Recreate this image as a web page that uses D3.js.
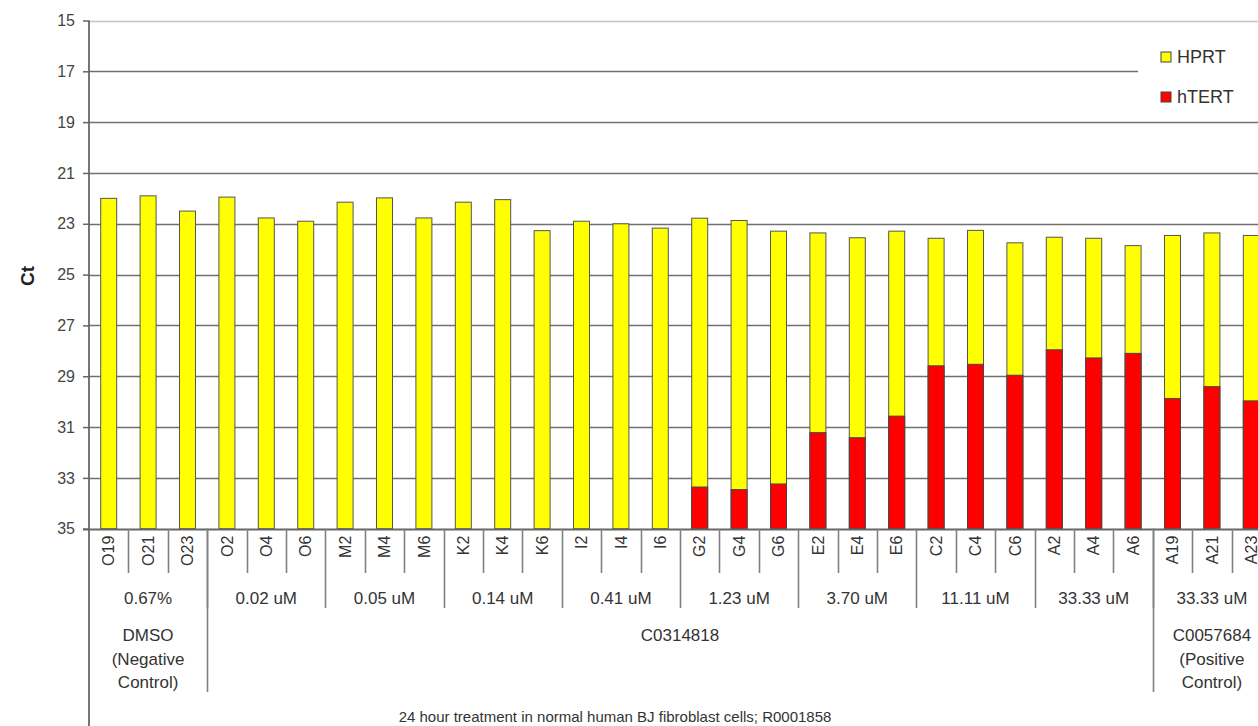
<!DOCTYPE html>
<html><head><meta charset="utf-8">
<script src="https://cdn.jsdelivr.net/npm/d3@7"></script>
<style>
html,body{margin:0;padding:0;background:#fff;overflow:hidden;}
text{font-family:"Liberation Sans",Arial,sans-serif;fill:#333;}
</style></head><body>
<svg id="chart" width="1258" height="726"></svg>
<script>
const categories = ["O19","O21","O23","O2","O4","O6","M2","M4","M6","K2","K4","K6","I2","I4","I6","G2","G4","G6","E2","E4","E6","C2","C4","C6","A2","A4","A6","A19","A21","A23"];
const doseGroups = ["0.67%","0.02 uM","0.05 uM","0.14 uM","0.41 uM","1.23 uM","3.70 uM","11.11 uM","33.33 uM","33.33 uM"];
const compoundGroups = [["DMSO","(Negative","Control)"],["C0314818"],["C0057684","(Positive","Control)"]];
const compoundSpans = [1, 8, 1]; // number of dose groups in each compound group
const hprt = [22.0,21.9,22.5,21.95,22.77,22.9,22.15,21.98,22.77,22.15,22.05,23.27,22.9,23.0,23.17,22.78,22.87,23.29,23.36,23.55,23.29,23.57,23.26,23.75,23.53,23.57,23.86,23.46,23.36,23.46];
const htert = [null,null,null,null,null,null,null,null,null,null,null,null,null,null,null,33.36,33.46,33.24,31.22,31.42,30.57,28.59,28.53,28.96,27.96,28.28,28.1,29.88,29.41,29.97];
const yTicks = [15,17,19,21,23,25,27,29,31,33,35];
const seriesNames = ["HPRT","hTERT"];
const seriesColors = ["#ffff00","#ff0000"];

const svg = d3.select("#chart");
const axisX = 89, plotTop = 20.5, plotBottom = 528.7;
const step = 39.4;
const x = d3.scaleBand().domain(categories).range([axisX, axisX + step*categories.length]).padding(0);
const y = d3.scaleLinear().domain([15,35]).range([plotTop, plotBottom]);
const barW = 16;

// gridlines
svg.append("g").selectAll("line").data(yTicks.slice(0,-1)).join("line")
  .attr("x1", axisX).attr("x2", 1258)
  .attr("y1", d=>Math.round(y(d))+0.5).attr("y2", d=>Math.round(y(d))+0.5)
  .attr("stroke", d=> d===15 ? "#c4c4c4" : "#707070").attr("stroke-width", 1.6);

// y axis
const yAxis = d3.axisLeft(y).tickValues(yTicks).tickSize(6).tickPadding(8);
const gy = svg.append("g").attr("transform", `translate(${axisX},0)`).call(yAxis);
gy.select(".domain").remove();
gy.selectAll(".tick line").attr("stroke","#666").attr("stroke-width",1.5);
gy.selectAll(".tick text").style("font-size","16px").style("fill","#444").style("font-family","\"Liberation Sans\",Arial,sans-serif");
svg.append("line").attr("x1",axisX).attr("x2",axisX).attr("y1",plotTop).attr("y2",726)
  .attr("stroke","#666").attr("stroke-width",1.8);

// bars
const bars = svg.append("g");
bars.selectAll("rect.hprt").data(categories).join("rect").attr("class","hprt")
  .attr("x", (d)=> x(d) + (x.bandwidth()-barW)/2).attr("width", barW)
  .attr("y", (d,i)=> y(hprt[i])).attr("height", (d,i)=> y(35) - y(hprt[i]))
  .attr("fill", seriesColors[0]).attr("stroke","#555").attr("stroke-width",1);
bars.selectAll("rect.htert").data(categories.filter((d,i)=>htert[i]!=null)).join("rect").attr("class","htert")
  .attr("x", (d)=> x(d) + (x.bandwidth()-barW)/2).attr("width", barW)
  .attr("y", d=> y(htert[categories.indexOf(d)])).attr("height", d=> y(35) - y(htert[categories.indexOf(d)]))
  .attr("fill", seriesColors[1]).attr("stroke","#444").attr("stroke-width",1);

// bottom axis line
svg.append("line").attr("x1",axisX-6).attr("x2",1258).attr("y1",Math.round(y(35))+0.5).attr("y2",Math.round(y(35))+0.5)
  .attr("stroke","#666").attr("stroke-width",1.8);

// category labels (rotated)
const xAxis = d3.axisBottom(x).tickSize(0).tickPadding(0);
const gx = svg.append("g").attr("transform",`translate(0,${y(35)})`).call(xAxis);
gx.select(".domain").remove();
gx.selectAll(".tick text")
  .attr("transform","rotate(-90)").attr("x",-7).attr("y",0).attr("dy","0.35em")
  .style("text-anchor","end").style("font-size","16px").style("font-family","\"Liberation Sans\",Arial,sans-serif");

// separators
const sepG = svg.append("g").attr("stroke","#808080").attr("stroke-width",1.6);
for (let i=1;i<categories.length;i++){
  const xx = Math.round(axisX + step*i)+0.5;
  let bottom = 573;
  if (i%3===0) bottom = 608;
  sepG.append("line").attr("x1",xx).attr("x2",xx).attr("y1",y(35)).attr("y2",bottom);
}
let acc = 0;
compoundSpans.forEach((s,k)=>{
  acc += s;
  if (k < compoundSpans.length-1){
    const xx = Math.round(axisX + step*3*acc)+0.5;
    sepG.append("line").attr("x1",xx).attr("x2",xx).attr("y1",y(35)).attr("y2",692);
  }
});

// dose group labels
svg.append("g").selectAll("text").data(doseGroups).join("text")
  .attr("x",(d,i)=> axisX + step*(3*i+1.5)).attr("y",604)
  .attr("text-anchor","middle").style("font-size","17px").text(d=>d);

// compound labels
let start = 0;
compoundGroups.forEach((lines,k)=>{
  const cx = axisX + step*3*(start + compoundSpans[k]/2);
  lines.forEach((t,j)=>{
    svg.append("text").attr("x",cx).attr("y",641 + j*23.5).attr("text-anchor","middle")
      .style("font-size","17px").text(t);
  });
  start += compoundSpans[k];
});

// footer
svg.append("text").attr("x",615).attr("y",722).attr("text-anchor","middle").style("font-size","15px")
  .text("24 hour treatment in normal human BJ fibroblast cells; R0001858");

// y title
svg.append("text").attr("transform","translate(34,276) rotate(-90)").attr("text-anchor","middle")
  .style("font-size","19px").style("font-weight","bold").style("fill","#222").text("Ct");

// legend
const leg = svg.append("g");
leg.append("rect").attr("x",1138).attr("y",32).attr("width",130).attr("height",82).attr("fill","#fff");
seriesNames.forEach((n,i)=>{
  const ly = 57 + i*40;
  leg.append("rect").attr("x",1161).attr("y",ly-5).attr("width",10).attr("height",10)
    .attr("fill",seriesColors[i]).attr("stroke","#444").attr("stroke-width",1);
  leg.append("text").attr("x",1177).attr("y",ly).attr("dy","0.36em").style("font-size","18px").text(n);
});
</script>
</body></html>
